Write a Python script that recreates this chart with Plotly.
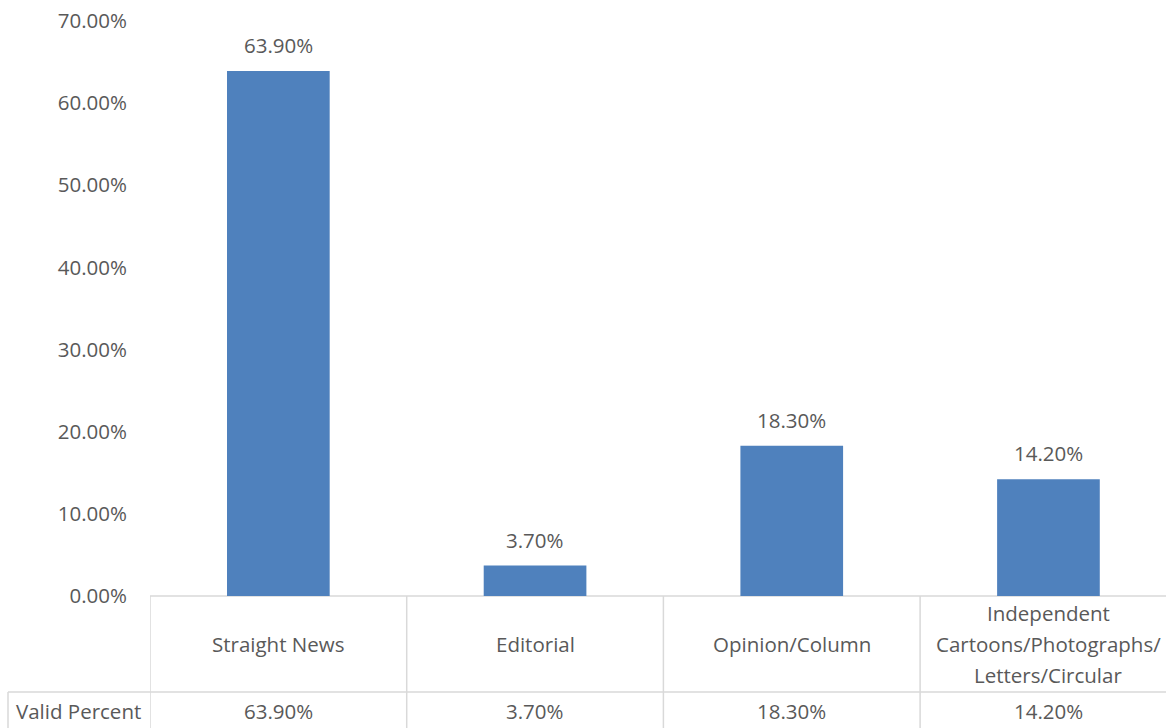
import plotly.graph_objects as go

# Article type shares (valid percent)
categories = ["Straight News", "Editorial", "Opinion/Column",
              "Independent<br>Cartoons/Photographs/<br>Letters/Circular"]
valid_percent = [63.90, 3.70, 18.30, 14.20]
series_name = "Valid Percent"
y_ticks = [0, 10, 20, 30, 40, 50, 60, 70]

BAR_COLOR = "#4F81BD"
TEXT_COLOR = "#595959"
GRID_COLOR = "#D9D9D9"
FONT = "Open Sans, Noto Sans, sans-serif"
FS = 20.5

W, H = 1166, 728
ML, MR, MT, MB = 150, 0, 21, 132
PLOT_H = H - MT - MB
PLOT_W = W - ML - MR
CAT_W = 256.7  # pixel width of one category column
x_hi = -0.5 + PLOT_W / CAT_W


def py(p):
    """pixel offset below the x axis -> paper y"""
    return -p / PLOT_H


def px(p):
    """absolute pixel x -> paper x"""
    return (p - ML) / PLOT_W


xs = list(range(len(categories)))

fig = go.Figure(go.Bar(
    x=xs, y=valid_percent, marker_color=BAR_COLOR, marker_line_width=0,
    name=series_name, hoverinfo="skip",
))

txt_font = dict(size=FS, color=TEXT_COLOR, family=FONT)
annotations = []
# value labels above the bars
for x, v in zip(xs, valid_percent):
    annotations.append(dict(x=x, y=v, xref="x", yref="y", text=f"{v:.2f}%",
                            showarrow=False, xanchor="center", yanchor="bottom",
                            yshift=10, font=txt_font))

# data table: category row
LINE_STEP = 31
for x, c in zip(xs, categories):
    lines = c.split("<br>")
    n = len(lines)
    for i, ln in enumerate(lines):
        off = 48 + (i - (n - 1) / 2) * LINE_STEP
        annotations.append(dict(x=x, y=0, xref="x", yref="paper", text=ln,
                                showarrow=False, xanchor="center", yanchor="middle",
                                yshift=-off, font=txt_font))

# data table: values row
for x, v in zip(xs, valid_percent):
    annotations.append(dict(x=x, y=0, xref="x", yref="paper", text=f"{v:.2f}%",
                            showarrow=False, xanchor="center", yanchor="middle",
                            yshift=-115, font=txt_font))
annotations.append(dict(x=px(78), y=0, xref="paper", yref="paper", text=series_name,
                        showarrow=False, xanchor="center", yanchor="middle",
                        yshift=-115, font=txt_font))

line_style = dict(color=GRID_COLOR, width=1.5)
shapes = []
# top border (category axis)
shapes.append(dict(type="line", xref="x", yref="paper", x0=-0.5, x1=x_hi + 1,
                   y0=0, y1=0, line=line_style, layer="below"))
# separator between category row and values row
shapes.append(dict(type="line", xref="paper", yref="paper", x0=px(8), x1=1.05,
                   y0=py(96), y1=py(96), line=line_style))
# left edge of the series-name cell
shapes.append(dict(type="line", xref="paper", yref="paper", x0=px(8), x1=px(8),
                   y0=py(96), y1=py(140), line=line_style))
# column dividers
for k in range(len(categories)):
    shapes.append(dict(type="line", xref="x", yref="paper", x0=k - 0.5, x1=k - 0.5,
                       y0=0, y1=py(140), line=line_style))

fig.update_layout(
    width=W, height=H,
    margin=dict(l=ML, r=MR, t=MT, b=MB, pad=0),
    paper_bgcolor="white", plot_bgcolor="white",
    showlegend=False, bargap=0.6,
    font=dict(family=FONT, size=FS, color=TEXT_COLOR),
    xaxis=dict(range=[-0.5, x_hi], showticklabels=False, showgrid=False,
               zeroline=False, showline=False, ticks=""),
    yaxis=dict(range=[0, 70], tickvals=y_ticks,
               ticktext=[f"{t:.2f}%" for t in y_ticks],
               showgrid=False, zeroline=False, showline=False, ticks="",
               ticklabelstandoff=22, tickfont=txt_font),
    annotations=annotations, shapes=shapes,
)

fig.write_html("out.html")
